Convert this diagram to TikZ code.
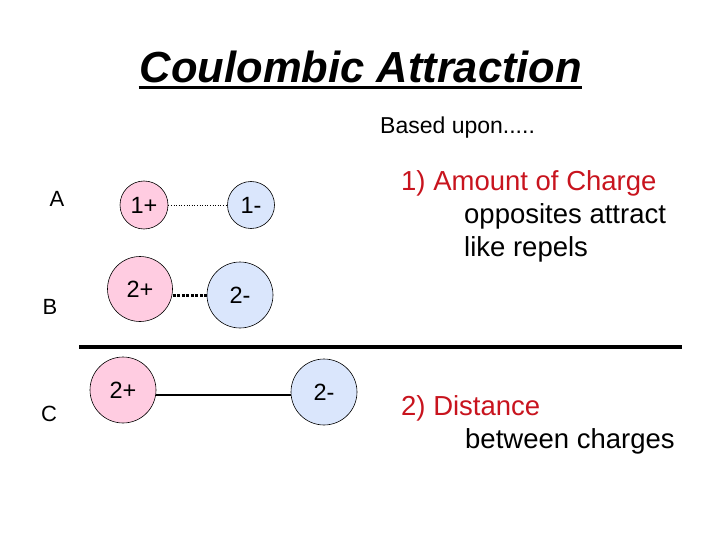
\documentclass[tikz,border=0pt]{standalone}
\usepackage{fontspec}
\setmainfont{Liberation Sans}
\definecolor{pinkfill}{HTML}{FFCCE1}
\definecolor{bluefill}{HTML}{DAE6FC}
\definecolor{redtext}{HTML}{C8141E}
\begin{document}
\begin{tikzpicture}[x=1pt,y=-1pt,
  poscharge/.style={circle,draw=black,line width=0.6pt,fill=pinkfill,inner sep=0pt,font=\fontsize{23.5}{26}\selectfont},
  negcharge/.style={circle,draw=black,line width=0.6pt,fill=bluefill,inner sep=0pt,font=\fontsize{23.5}{26}\selectfont},
  rowlab/.style={font=\fontsize{22}{24}\selectfont,inner sep=0pt},
  bigtext/.style={font=\fontsize{27.5}{33}\selectfont,inner sep=0pt,anchor=west}]
\useasboundingbox (0,0) rectangle (720,540);
% title
\node[inner sep=0pt,font=\fontsize{43.5}{48}\selectfont\bfseries\itshape] (title) at (361,67) {Coulombic Attraction};
\draw[line width=3pt] ([xshift=-1pt,yshift=-5pt]title.base west) -- ([yshift=-5pt]title.base east);
\node[inner sep=0pt,anchor=west,font=\fontsize{23}{26}\selectfont] (based) at (380,128) {Based upon.....};
% row labels
\node[rowlab] (la) at (57,199) {A};
\node[rowlab] (lb) at (50,307) {B};
\node[rowlab] (lc) at (49,414) {C};
% row A
\node[poscharge,minimum size=48pt] (ap) at (144,205) {1+};
\node[negcharge,minimum size=47pt] (an) at (251,205) {1-};
\draw[line width=0.6pt,dotted] (ap) -- (an);
% row B
\node[poscharge,minimum size=65pt] (bp) at (140,289) {2+};
\node[negcharge,minimum size=66pt] (bn) at (240,295) {2-};
\draw[line width=3pt,dash pattern=on 3pt off 1.5pt] (bp.east |- 0,295) -- (bn.west);
% separator
\coordinate (s1) at (79,347);
\coordinate (s2) at (682,347);
\draw[line width=3.5pt] (s1) -- (s2);
% row C
\node[poscharge,minimum size=66pt] (cp) at (123,390) {2+};
\node[negcharge,minimum size=66pt] (cn) at (324,392) {2-};
\draw[line width=2.5pt] (cp.east |- 0,395) -- (cn.west |- 0,395);
% texts
\node[bigtext,text=redtext] (t1) at (401,183) {1) Amount of Charge};
\node[bigtext] (t2) at (464,216) {opposites attract};
\node[bigtext] (t3) at (464,249) {like repels};
\node[bigtext,text=redtext] (t4) at (401,408) {2) Distance};
\node[bigtext] (t5) at (465,441) {between charges};
\end{tikzpicture}
\end{document}
